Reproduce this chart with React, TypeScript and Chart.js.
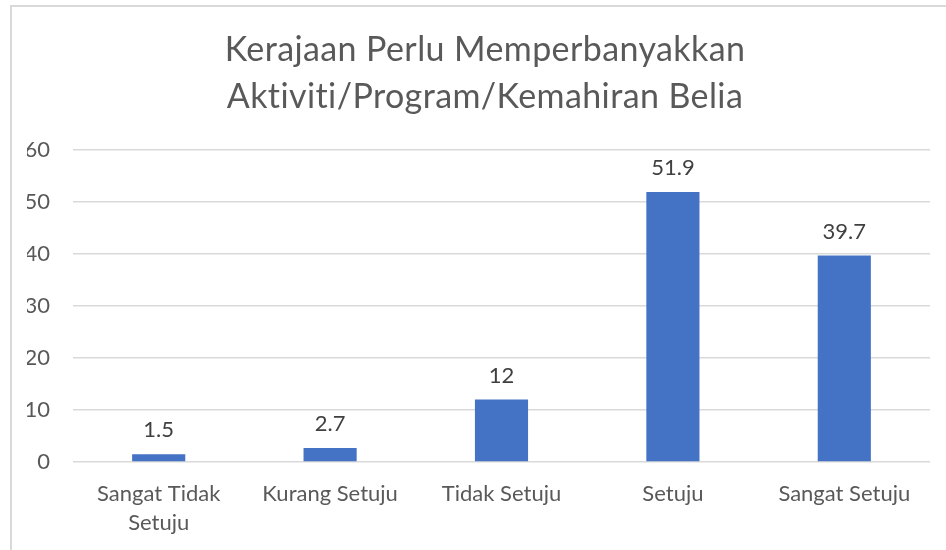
import React, { useEffect, useRef } from "react";
import { Chart, registerables } from "chart.js";

Chart.register(...registerables);

const titleLines = ["Kerajaan Perlu Memperbanyakkan", "Aktiviti/Program/Kemahiran Belia"];
const categories = [["Sangat Tidak", "Setuju"], "Kurang Setuju", "Tidak Setuju", "Setuju", "Sangat Setuju"];
const values = [1.5, 2.7, 12, 51.9, 39.7];
const valueLabels = ["1.5", "2.7", "12", "51.9", "39.7"];
const yMax = 60;
const yStep = 10;

const FONT = "Lato, 'Open Sans', sans-serif";

const titlePlugin = {
  id: "customTitle",
  afterDraw(chart: any) {
    const ctx = chart.ctx;
    ctx.save();
    ctx.fillStyle = "#595959";
    ctx.font = `34px ${FONT}`;
    (ctx as any).letterSpacing = "0.4px";
    ctx.textAlign = "center";
    ctx.textBaseline = "middle";
    ctx.fillText(titleLines[0], 485, 50);
    ctx.fillText(titleLines[1], 485, 97);
    ctx.restore();
  },
};

const valueLabelPlugin = {
  id: "valueLabels",
  afterDatasetsDraw(chart: any) {
    const ctx = chart.ctx;
    const meta = chart.getDatasetMeta(0);
    ctx.save();
    ctx.fillStyle = "#404040";
    ctx.font = `22px ${FONT}`;
    ctx.textAlign = "center";
    ctx.textBaseline = "middle";
    meta.data.forEach((bar: any, i: number) => {
      ctx.fillText(valueLabels[i], bar.x, bar.y - 24);
    });
    ctx.restore();
  },
};

export default function App() {
  const ref = useRef<HTMLCanvasElement>(null);
  useEffect(() => {
    if (!ref.current) return;
    const chart = new Chart(ref.current, {
      type: "bar",
      data: {
        labels: categories,
        datasets: [
          {
            data: values,
            backgroundColor: "#4472C4",
            borderWidth: 0,
            barPercentage: 0.62,
            categoryPercentage: 0.5,
          },
        ],
      },
      options: {
        animation: false,
        responsive: false,
        layout: { padding: { top: 150, left: 27, right: 16, bottom: 14 } },
        plugins: { legend: { display: false }, title: { display: false }, tooltip: { enabled: false } },
        scales: {
          x: {
            grid: { display: false, drawTicks: false },
            border: { display: false },
            ticks: { color: "#595959", font: { family: FONT, size: 22, lineHeight: 1.3 }, padding: 18, maxRotation: 0, autoSkip: false },
            afterFit(scale: any) {
              scale.height = 74;
            },
          },
          y: {
            min: 0,
            max: yMax,
            ticks: { stepSize: yStep, color: "#595959", font: { family: FONT, size: 22 }, padding: 23 },
            grid: { color: "#d9d9d9", lineWidth: 1.5, drawTicks: false },
            border: { display: false },
            afterFit(scale: any) {
              scale.width = 46;
            },
          },
        },
      },
      plugins: [titlePlugin, valueLabelPlugin],
    });
    return () => chart.destroy();
  }, []);
  return (
    <div style={{ position: "fixed", left: 0, top: 0, width: 946, height: 550, background: "#fff", overflow: "hidden" }}>
      <div style={{ position: "absolute", left: 10, top: 5, width: 980, height: 600, border: "2px solid #d9d9d9", boxSizing: "border-box" }} />
      <canvas ref={ref} width={946} height={550} style={{ position: "absolute", left: 0, top: 0 }} />
    </div>
  );
}
